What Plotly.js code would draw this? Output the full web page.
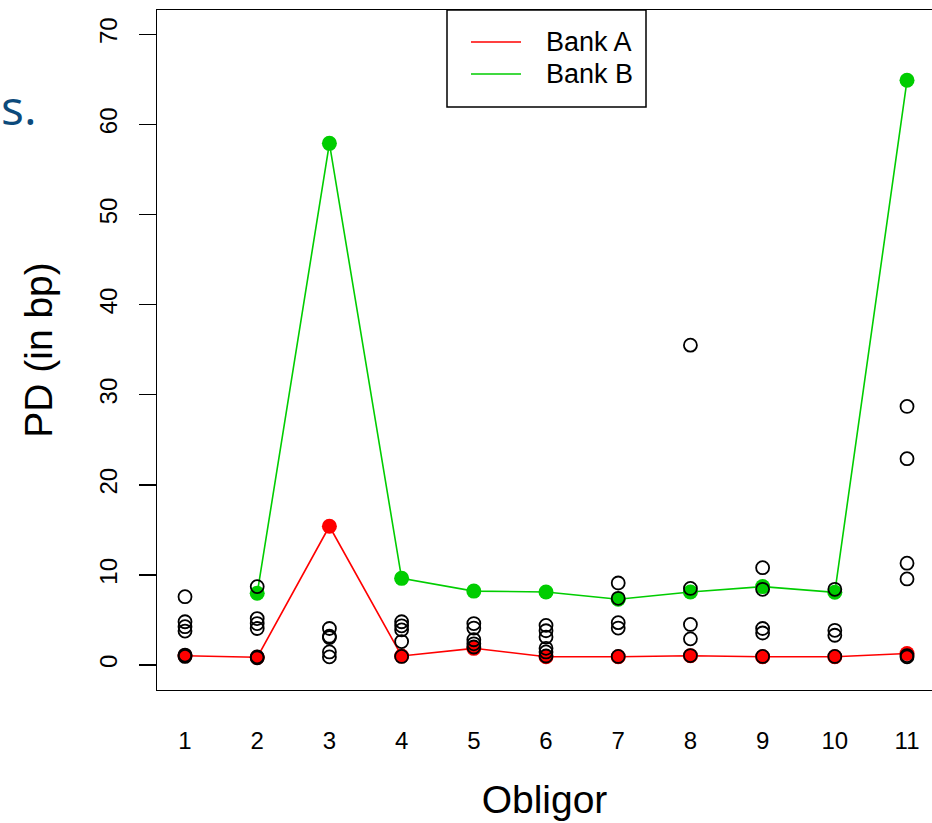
<!DOCTYPE html>
<html>
<head>
<meta charset="utf-8">
<script src="https://cdn.plot.ly/plotly-3.0.1.min.js"></script>
<style>
  html, body { margin: 0; padding: 0; background: #ffffff; overflow: hidden; }
  #chart { width: 932px; height: 823px; }
</style>
</head>
<body>
<div id="chart"></div>
<script>
// ---- data ----
const obligors = [1, 2, 3, 4, 5, 6, 7, 8, 9, 10, 11];
const seriesNames = ["Bank A", "Bank B"];
const bankA = [1.03, 0.85, 15.4, 1.0, 1.85, 0.92, 0.92, 1.03, 0.92, 0.92, 1.28];
const bankB = [null, 7.96, 57.9, 9.62, 8.2, 8.1, 7.3, 8.1, 8.7, 8.07, 64.9];

// other banks' estimates (open circles), one list per obligor
const otherBanks = [
  [7.58, 4.8, 4.25, 3.77, 1.1, 0.95],
  [8.7, 5.15, 4.6, 4.05, 0.9, 0.8],
  [4.05, 3.2, 3.05, 1.45, 0.9],
  [4.8, 4.35, 3.9, 2.6, 0.95],
  [4.6, 4.1, 2.8, 2.35, 2.0],
  [4.4, 3.8, 3.1, 1.85, 1.45, 1.0],
  [9.1, 7.4, 4.7, 4.1, 0.95],
  [35.5, 8.5, 4.5, 2.9, 1.05],
  [10.8, 8.4, 4.05, 3.55, 0.95],
  [8.4, 3.85, 3.3, 0.95],
  [28.7, 22.9, 11.3, 9.55, 1.05, 0.9]
];
const yTicks = [0, 10, 20, 30, 40, 50, 60, 70];
const xTickLabels = ["1", "2", "3", "4", "5", "6", "7", "8", "9", "10", "11"];
const xTitle = "Obligor";
const yTitle = "PD (in bp)";
const sideText = "s.";

// ---- build traces ----
const colA = "#ff0000";
const colB = "#00cd00";
const otherX = [], otherY = [];
otherBanks.forEach((vals, i) => vals.forEach(v => { otherX.push(obligors[i]); otherY.push(v); }));

const traces = [
  { x: obligors, y: bankA, mode: "lines+markers", name: seriesNames[0], showlegend: false,
    line: { color: colA, width: 1.6 }, marker: { color: colA, size: 15, line: { width: 0 } } },
  { x: obligors, y: bankB, mode: "lines+markers", name: seriesNames[1], showlegend: false,
    connectgaps: false,
    line: { color: colB, width: 1.6 }, marker: { color: colB, size: 15, line: { width: 0 } } },
  { x: otherX, y: otherY, mode: "markers", showlegend: false, hoverinfo: "y",
    marker: { symbol: "circle-open", size: 13, color: "#000000", line: { color: "#000000", width: 1.8 } } }
];

// ---- manual legend (R-style box) ----
const L = 157, T = 10, B = 690, W = 775, H = 680;
const px = v => (v - L) / W;
const py = v => (B - v) / H;
const legendShapes = [
  { type: "rect", xref: "paper", yref: "paper", x0: px(447), x1: px(646), y0: py(107), y1: py(10),
    line: { color: "#000000", width: 1.5 }, fillcolor: "#ffffff", layer: "above" },
  { type: "line", xref: "paper", yref: "paper", x0: px(471), x1: px(521), y0: py(42), y1: py(42),
    line: { color: colA, width: 1.6 }, layer: "above" },
  { type: "line", xref: "paper", yref: "paper", x0: px(471), x1: px(521), y0: py(74), y1: py(74),
    line: { color: colB, width: 1.6 }, layer: "above" }
];
const legendAnn = [
  { xref: "paper", yref: "paper", x: px(544), y: py(42), xanchor: "left", yanchor: "middle",
    text: seriesNames[0], showarrow: false, font: { family: "Liberation Sans, Arial, sans-serif", size: 27, color: "#000" } },
  { xref: "paper", yref: "paper", x: px(544), y: py(74), xanchor: "left", yanchor: "middle",
    text: seriesNames[1], showarrow: false, font: { family: "Liberation Sans, Arial, sans-serif", size: 27, color: "#000" } },
  { xref: "paper", yref: "paper", x: px(-1), y: py(106), xanchor: "left", yanchor: "middle",
    text: sideText, showarrow: false, font: { family: "Open Sans, sans-serif", size: 48, color: "#0c4a7b" } }
];

const layout = {
  width: 932, height: 823,
  margin: { l: L, r: 0, t: T, b: 823 - B, pad: 0 },
  paper_bgcolor: "#ffffff", plot_bgcolor: "#ffffff",
  font: { family: "Liberation Sans, Arial, sans-serif", color: "#000000" },
  showlegend: false,
  xaxis: {
    range: [0.612, 11.346],
    tickvals: obligors, ticktext: xTickLabels,
    ticks: "", showgrid: false, zeroline: false,
    showline: true, mirror: true, linecolor: "#000000", linewidth: 1.4,
    tickfont: { size: 24 }, ticklabelstandoff: 29,
    title: { text: xTitle, font: { size: 39 }, standoff: 32 },
    automargin: false
  },
  yaxis: {
    range: [-2.775, 72.7],
    tickvals: yTicks, ticktext: yTicks.map(String),
    ticks: "outside", ticklen: 17, tickwidth: 1.4, tickcolor: "#000000",
    tickangle: -90, tickfont: { size: 24 }, ticklabelstandoff: 12,
    showgrid: false, zeroline: false,
    showline: true, mirror: false, linecolor: "#000000", linewidth: 1.4,
    title: { text: yTitle, font: { size: 39 }, standoff: 30 },
    automargin: false
  },
  shapes: legendShapes,
  annotations: legendAnn
};

Plotly.newPlot("chart", traces, layout, { displayModeBar: false, staticPlot: true });
</script>
</body>
</html>
